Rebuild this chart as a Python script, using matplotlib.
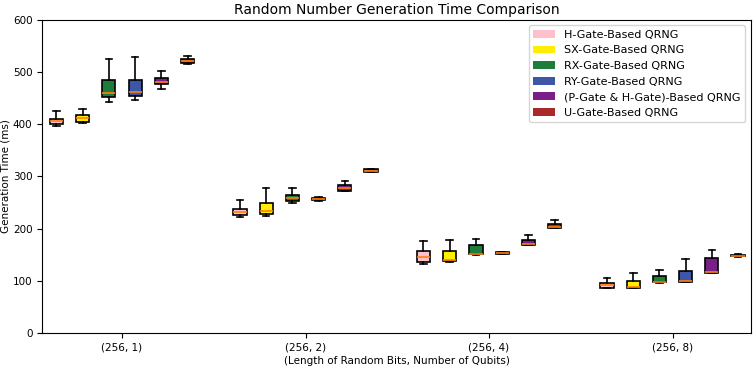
import matplotlib
matplotlib.use("Agg")
import matplotlib.pyplot as plt
from matplotlib.patches import Patch

groups = ["(256, 1)", "(256, 2)", "(256, 4)", "(256, 8)"]
methods = ["H-Gate-Based QRNG", "SX-Gate-Based QRNG", "RX-Gate-Based QRNG",
           "RY-Gate-Based QRNG", "(P-Gate & H-Gate)-Based QRNG", "U-Gate-Based QRNG"]
colors = ["#ffc0cb", "#ffee00", "#1e7d3a", "#3d56a8", "#7b1f88", "#a82a2a"]

# per method: [group1, group2, group3, group4]
whislo = {
    "H": [397, 222, 133, 86],
    "SX": [402, 225, 136, 86],
    "RX": [443, 250, 149.5, 96.6],
    "RY": [446.6, 253, 151, 97],
    "PH": [468, 271.6, 168, 115],
    "U": [515, 308, 201, 146.5],
}
q1 = {
    "H": [400.6, 225.6, 137, 86.5],
    "SX": [405, 228.8, 137.4, 87],
    "RX": [451.8, 253, 150.8, 97.8],
    "RY": [454, 255, 151.4, 97.8],
    "PH": [477, 273, 169.4, 115.7],
    "U": [518, 309.4, 202, 147],
}
med = {
    "H": [406, 232, 146.4, 91.4],
    "SX": [412, 234, 139, 88],
    "RX": [459.5, 259, 152, 98.6],
    "RY": [461, 257, 153, 99.7],
    "PH": [481, 277, 171.3, 117],
    "U": [522, 311, 204, 148.4],
}
q3 = {
    "H": [411, 238.4, 157, 95.8],
    "SX": [418, 248.6, 156.6, 100],
    "RX": [485.7, 265, 168.7, 108.7],
    "RY": [484, 259, 154.6, 118],
    "PH": [488.8, 283, 177.7, 143.8],
    "U": [524.6, 313.8, 209.7, 150],
}
whishi = {
    "H": [425, 255.7, 175.8, 106],
    "SX": [429, 278, 177.7, 115.7],
    "RX": [524.6, 278, 181, 120.8],
    "RY": [529, 260, 155, 141],
    "PH": [501.6, 291, 188.6, 160],
    "U": [530, 315, 217, 150.8],
}
keys = ["H", "SX", "RX", "RY", "PH", "U"]

fig = plt.figure(figsize=(7.53, 3.68), dpi=100)
ax = fig.add_axes([0.056, 0.095, 0.941, 0.851])

n = len(keys)
spacing = 1.0 / 7
width = 0.072
for i, k in enumerate(keys):
    stats = []
    for g in range(len(groups)):
        stats.append(dict(whislo=whislo[k][g], q1=q1[k][g], med=med[k][g],
                          q3=q3[k][g], whishi=whishi[k][g], fliers=[]))
    pos = [g + (i - (n - 1) / 2) * spacing for g in range(len(groups))]
    ax.bxp(stats, positions=pos, widths=width, patch_artist=True,
           showfliers=False, manage_ticks=False,
           boxprops=dict(facecolor=colors[i], edgecolor="black", linewidth=1.2),
           whiskerprops=dict(color="black", linewidth=1.2),
           capprops=dict(color="black", linewidth=1.2),
           medianprops=dict(color="#ff7f0e", linewidth=1.2))

ax.set_xticks(range(len(groups)))
ax.set_xticklabels(groups, fontsize=7.5)
ax.set_xlim(-0.435, 3.426)
ax.set_ylim(0, 600)
ax.set_yticks([0, 100, 200, 300, 400, 500, 600])
ax.tick_params(axis="y", labelsize=7.5)
ax.set_xlabel("(Length of Random Bits, Number of Qubits)", fontsize=7.5, labelpad=2)
ax.set_ylabel("Generation Time (ms)", fontsize=7.5, labelpad=2)
ax.set_title("Random Number Generation Time Comparison", fontsize=10, pad=4)

handles = [Patch(facecolor=c, label=m) for c, m in zip(colors, methods)]
ax.legend(handles=handles, loc="upper right", fontsize=8, frameon=True)

fig.savefig("out.png", dpi=100)
